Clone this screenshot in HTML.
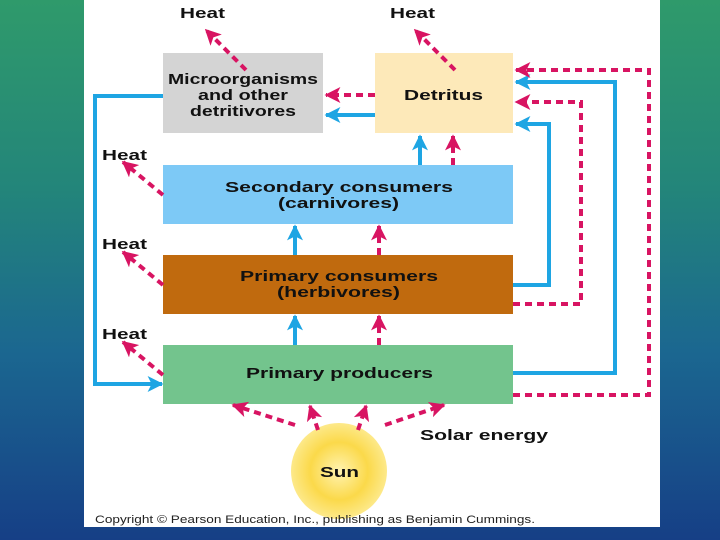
<!DOCTYPE html>
<html><head><meta charset="utf-8"><style>
html,body{margin:0;padding:0;width:720px;height:540px;overflow:hidden}
body{background:linear-gradient(180deg,#2f9a6b 0%,#23857a 35%,#1b6790 65%,#163f86 100%);font-family:"Liberation Sans",sans-serif}
svg{position:absolute;left:0;top:0}
</style></head><body>
<svg width="720" height="540" viewBox="0 0 720 540">
<defs>
<marker id="m" markerWidth="4" markerHeight="4" refX="3.6" refY="2" orient="auto" markerUnits="strokeWidth">
<path d="M0,0 L4,2 L0,4 L1,2 Z" fill="#d81462"/></marker>
<marker id="b" markerWidth="4" markerHeight="4" refX="3.6" refY="2" orient="auto" markerUnits="strokeWidth">
<path d="M0,0 L4,2 L0,4 L1,2 Z" fill="#1ea5e3"/></marker>
<radialGradient id="sun" cx="50%" cy="50%" r="50%">
<stop offset="0" stop-color="#fff3b0"/><stop offset="0.6" stop-color="#fbd94a"/><stop offset="1" stop-color="#fde98a"/></radialGradient>
</defs>
<rect x="84" y="0" width="576" height="527" fill="#fff"/>
<rect x="163" y="53" width="160" height="80" fill="#d4d4d4"/>
<rect x="375" y="53" width="138" height="80" fill="#fde9b9"/>
<rect x="163" y="165" width="350" height="59" fill="#7dc9f6"/>
<rect x="163" y="255" width="350" height="59" fill="#c06a0e"/>
<rect x="163" y="345" width="350" height="59" fill="#73c48d"/>
<circle cx="339" cy="471" r="48" fill="url(#sun)"/>
<g fill="none" stroke-width="4">
<g stroke="#1ea5e3">
<polyline points="513,373 615,373 615,82 516,82" marker-end="url(#b)"/>
<polyline points="513,285 549,285 549,124 516,124" marker-end="url(#b)"/>
<polyline points="163,96 95,96 95,384 162,384" marker-end="url(#b)"/>
<line x1="375" y1="115" x2="326" y2="115" marker-end="url(#b)"/>
<line x1="295" y1="255" x2="295" y2="226" marker-end="url(#b)"/>
<line x1="295" y1="345" x2="295" y2="316" marker-end="url(#b)"/>
<line x1="420" y1="165" x2="420" y2="136" marker-end="url(#b)"/>
</g>
<g stroke="#d81462" stroke-dasharray="7,5">
<polyline points="513,395 649,395 649,70 516,70" marker-end="url(#m)"/>
<polyline points="513,304 581,304 581,102 516,102" marker-end="url(#m)"/>
<line x1="375" y1="95" x2="326" y2="95" marker-end="url(#m)"/>
<line x1="379" y1="255" x2="379" y2="226" marker-end="url(#m)"/>
<line x1="379" y1="345" x2="379" y2="316" marker-end="url(#m)"/>
<line x1="453" y1="165" x2="453" y2="136" marker-end="url(#m)"/>
<line x1="246" y1="70" x2="206" y2="30" marker-end="url(#m)"/>
<line x1="455" y1="70" x2="415" y2="30" marker-end="url(#m)"/>
<line x1="163" y1="195" x2="123" y2="162" marker-end="url(#m)"/>
<line x1="163" y1="285" x2="123" y2="252" marker-end="url(#m)"/>
<line x1="163" y1="375" x2="123" y2="342" marker-end="url(#m)"/>
<line x1="295" y1="425" x2="233" y2="405" marker-end="url(#m)"/>
<line x1="318" y1="430" x2="310" y2="406" marker-end="url(#m)"/>
<line x1="358" y1="430" x2="366" y2="406" marker-end="url(#m)"/>
<line x1="385" y1="425" x2="444" y2="405" marker-end="url(#m)"/>
</g>
</g>
<g font-family="Liberation Sans, sans-serif" font-weight="bold" font-size="15" fill="#111">
<text x="180" y="18" textLength="45" lengthAdjust="spacingAndGlyphs">Heat</text>
<text x="390" y="18" textLength="45" lengthAdjust="spacingAndGlyphs">Heat</text>
<text x="102" y="160" textLength="45" lengthAdjust="spacingAndGlyphs">Heat</text>
<text x="102" y="249" textLength="45" lengthAdjust="spacingAndGlyphs">Heat</text>
<text x="102" y="339" textLength="45" lengthAdjust="spacingAndGlyphs">Heat</text>
<text x="168" y="84" textLength="150" lengthAdjust="spacingAndGlyphs">Microorganisms</text>
<text x="198" y="100" textLength="90" lengthAdjust="spacingAndGlyphs">and other</text>
<text x="190" y="116" textLength="106" lengthAdjust="spacingAndGlyphs">detritivores</text>
<text x="404" y="100" textLength="79" lengthAdjust="spacingAndGlyphs">Detritus</text>
<text x="225" y="192" textLength="228" lengthAdjust="spacingAndGlyphs">Secondary consumers</text>
<text x="278" y="208" textLength="121" lengthAdjust="spacingAndGlyphs">(carnivores)</text>
<text x="240" y="281" textLength="198" lengthAdjust="spacingAndGlyphs">Primary consumers</text>
<text x="277" y="297" textLength="123" lengthAdjust="spacingAndGlyphs">(herbivores)</text>
<text x="246" y="378" textLength="187" lengthAdjust="spacingAndGlyphs">Primary producers</text>
<text x="420" y="440" textLength="128" lengthAdjust="spacingAndGlyphs">Solar energy</text>
<text x="320" y="477" textLength="39" lengthAdjust="spacingAndGlyphs">Sun</text>
</g>
<text x="95" y="523" font-family="Liberation Sans, sans-serif" font-size="11" fill="#222" textLength="440" lengthAdjust="spacingAndGlyphs">Copyright © Pearson Education, Inc., publishing as Benjamin Cummings.</text>
</svg>
</body></html>
